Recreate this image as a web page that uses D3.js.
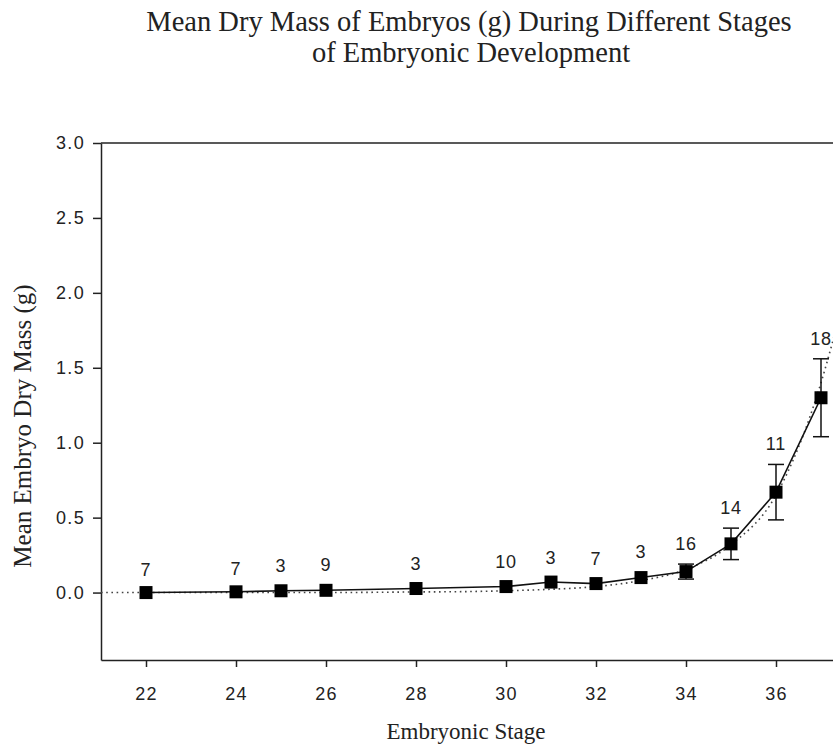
<!DOCTYPE html>
<head>
    <title>Embryo Dry Mass</title>
    <script src="https://d3js.org/d3.v7.min.js"></script>
    <style>
        body { margin: 0; background: #fff; }
        svg { display: block; }
    </style>
</head>
<body>
<script>
// mean dry mass per stage
const stages = [22, 24, 25, 26, 28, 30, 31, 32, 33, 34, 35, 36, 37];
const means  = [0.0, 0.005, 0.012, 0.015, 0.027, 0.04, 0.07, 0.06, 0.10, 0.14, 0.325, 0.67, 1.30];
const errors = [0.02, 0.02, 0.03, 0.035, 0.03, 0.03, 0.03, 0.03, 0.035, 0.05, 0.105, 0.185, 0.26];
const counts = [7, 7, 3, 9, 3, 10, 3, 7, 3, 16, 14, 11, 18];

// dotted fitted curve
const fitStages = [21, 22, 24, 26, 28, 29, 30, 31, 32, 33, 34, 35, 36, 37, 37.5];
const fitValues = [0.0, 0.0, 0.0, 0.0, 0.004, 0.006, 0.012, 0.022, 0.04, 0.08, 0.155, 0.32, 0.65, 1.40, 1.95];

const yTicks = [0, 0.5, 1.0, 1.5, 2.0, 2.5, 3.0];
const xTicks = [22, 24, 26, 28, 30, 32, 34, 36];

const w = 833;
const h = 747;
const plotLeft = 101, plotTop = 143, plotBottom = 660;

const x = d3.scaleLinear().domain([21, 38]).range([plotLeft, plotLeft + 17 * 45]);
const y = d3.scaleLinear().domain([-0.45, 3.0]).range([plotBottom, plotTop]);

const svg = d3.select("body").append("svg")
    .attr("width", w)
    .attr("height", h);

const ink = "#222";
const serif = "Liberation Serif, Times New Roman, serif";
const sans = "Liberation Sans, Arial, sans-serif";

// title
const title = svg.append("text")
    .attr("text-anchor", "middle")
    .attr("font-family", serif)
    .attr("font-size", 28.5)
    .attr("fill", ink);
title.append("tspan").attr("x", 469).attr("y", 31)
    .text("Mean Dry Mass of Embryos (g) During Different Stages");
title.append("tspan").attr("x", 471).attr("y", 62)
    .text("of Embryonic Development");

// frame: top line and the two axes
svg.append("line")
    .attr("x1", plotLeft).attr("x2", w + 50)
    .attr("y1", plotTop).attr("y2", plotTop)
    .attr("stroke", ink).attr("stroke-width", 1.5);

const yAxis = d3.axisLeft(y)
    .tickValues(yTicks)
    .tickFormat(d3.format(".1f"))
    .tickSize(8)
    .tickSizeOuter(0)
    .tickPadding(8);

const xAxis = d3.axisBottom(x)
    .tickValues(xTicks)
    .tickSize(7)
    .tickSizeOuter(0)
    .tickPadding(20);

const gy = svg.append("g")
    .attr("transform", "translate(" + plotLeft + ",0)")
    .call(yAxis);
const gx = svg.append("g")
    .attr("transform", "translate(0," + plotBottom + ")")
    .call(xAxis);

[gx, gy].forEach(g => {
    g.selectAll("path, line").attr("stroke", ink).attr("stroke-width", 1.5);
    g.selectAll("text")
        .attr("font-family", sans)
        .attr("font-size", 18)
        .attr("letter-spacing", 1.3)
        .attr("fill", ink);
});

// axis labels
svg.append("text")
    .attr("x", 466).attr("y", 739)
    .attr("text-anchor", "middle")
    .attr("font-family", serif)
    .attr("font-size", 23)
    .attr("fill", ink)
    .text("Embryonic Stage");

svg.append("text")
    .attr("transform", "translate(31,426) rotate(-90)")
    .attr("text-anchor", "middle")
    .attr("font-family", serif)
    .attr("font-size", 25)
    .attr("fill", ink)
    .text("Mean Embryo Dry Mass (g)");

const plot = svg.append("g");

// dotted fit
const fit = fitStages.map((s, i) => [s, fitValues[i]]);
plot.append("path")
    .datum(fit)
    .attr("fill", "none")
    .attr("stroke", "#444")
    .attr("stroke-width", 1.6)
    .attr("stroke-dasharray", "1.6,3.6")
    .attr("d", d3.line().x(d => x(d[0])).y(d => y(d[1])).curve(d3.curveMonotoneX));

// mean line
const pts = stages.map((s, i) => ({s: s, m: means[i], e: errors[i], n: counts[i]}));
plot.append("path")
    .datum(pts)
    .attr("fill", "none")
    .attr("stroke", "#111")
    .attr("stroke-width", 1.6)
    .attr("d", d3.line().x(d => x(d.s)).y(d => y(d.m)));

// error bars, only where they reach past the marker
const ms = 13;
const shown = pts.filter(d => y(d.m) - y(d.m + d.e) > ms / 2);
const eb = plot.selectAll(".err").data(shown).enter().append("g")
    .attr("stroke", "#111").attr("stroke-width", 1.5);
eb.append("line")
    .attr("x1", d => x(d.s)).attr("x2", d => x(d.s))
    .attr("y1", d => y(d.m + d.e)).attr("y2", d => y(d.m - d.e));
eb.append("line")
    .attr("x1", d => x(d.s) - 8).attr("x2", d => x(d.s) + 8)
    .attr("y1", d => y(d.m + d.e)).attr("y2", d => y(d.m + d.e));
eb.append("line")
    .attr("x1", d => x(d.s) - 8).attr("x2", d => x(d.s) + 8)
    .attr("y1", d => y(d.m - d.e)).attr("y2", d => y(d.m - d.e));

// square markers
plot.selectAll(".pt").data(pts).enter().append("rect")
    .attr("x", d => x(d.s) - ms / 2)
    .attr("y", d => y(d.m) - ms / 2)
    .attr("width", ms).attr("height", ms)
    .attr("fill", "#000");

// sample size labels
plot.selectAll(".n").data(pts).enter().append("text")
    .attr("x", d => x(d.s))
    .attr("y", d => y(d.m + d.e) - 14)
    .attr("text-anchor", "middle")
    .attr("font-family", sans)
    .attr("font-size", 18)
    .attr("letter-spacing", 0.8)
    .attr("fill", ink)
    .text(d => d.n);
</script>
</body>
